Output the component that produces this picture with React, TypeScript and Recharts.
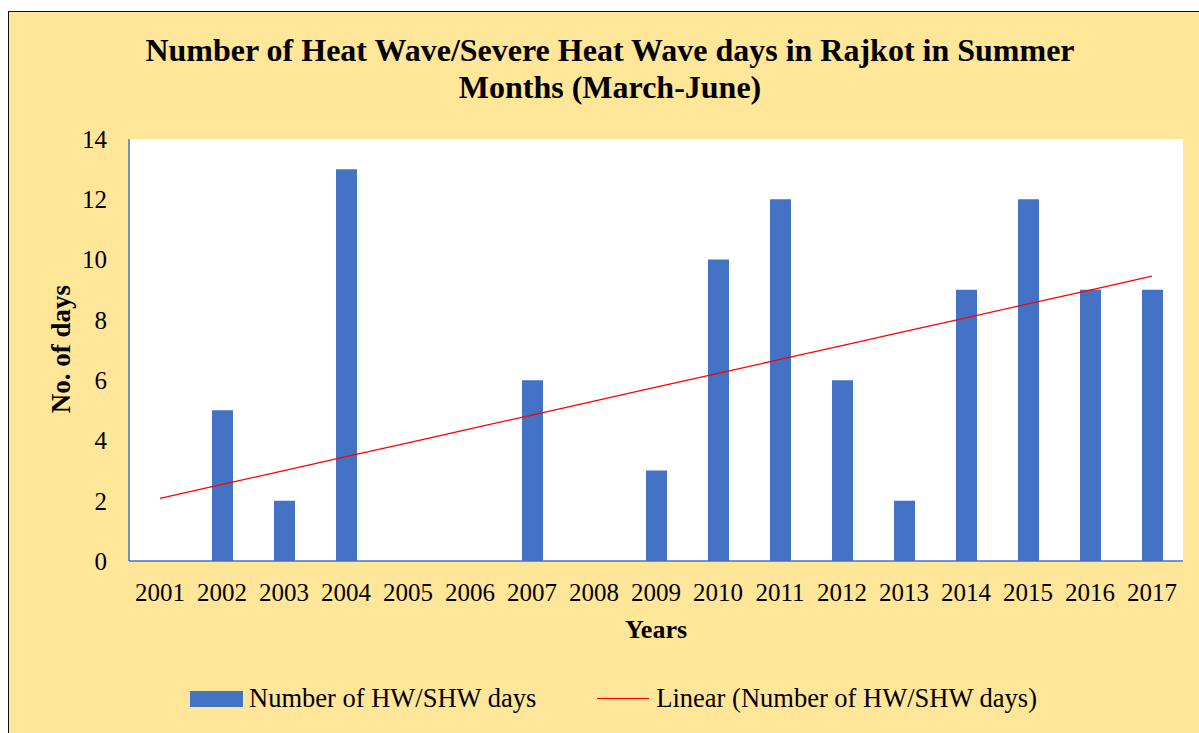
import { ComposedChart, Bar, Line, XAxis, YAxis, CartesianGrid } from "recharts";

const years = [
  "2001", "2002", "2003", "2004", "2005", "2006", "2007", "2008", "2009",
  "2010", "2011", "2012", "2013", "2014", "2015", "2016", "2017",
];
const hwDays = [0, 5, 2, 13, 0, 0, 6, 0, 3, 10, 12, 6, 2, 9, 12, 9, 9];
const yTicks = [0, 2, 4, 6, 8, 10, 12, 14];

const SERIF = '"Times New Roman", "Liberation Serif", serif';
const BLUE = "#4472C4";
const RED = "#FF0000";

// least-squares fit, same as Excel's "Linear" trendline
function linearTrend(values: number[]) {
  const n = values.length;
  const mx = (n + 1) / 2;
  const my = values.reduce((s, v) => s + v, 0) / n;
  let num = 0;
  let den = 0;
  values.forEach((v, i) => {
    num += (i + 1 - mx) * (v - my);
    den += (i + 1 - mx) ** 2;
  });
  const slope = num / den;
  return values.map((_, i) => my + slope * (i + 1 - mx));
}

const trend = linearTrend(hwDays);
const data = years.map((year, i) => ({ year, days: hwDays[i], trend: trend[i] }));

export default function App() {
  return (
    <div>
      <style>{"body{margin:0;overflow:hidden}"}</style>
      <div
        style={{
          position: "absolute",
          left: 8,
          top: 11,
          width: 1200,
          height: 730,
          background: "#FFE699",
          borderLeft: "1.5px solid #111",
          borderTop: "1.5px solid #111",
          fontFamily: SERIF,
          color: "#000",
        }}
      >
        <div
          style={{
            position: "absolute",
            left: 51,
            top: 20,
            width: 1100,
            textAlign: "center",
            fontSize: 32,
            fontWeight: "bold",
            lineHeight: "37px",
          }}
        >
          Number of Heat Wave/Severe Heat Wave days in Rajkot in Summer
          <br />
          Months (March-June)
        </div>

        <ComposedChart
          width={1191}
          height={722}
          data={data}
          margin={{ top: 127, right: 17, bottom: 133, left: 40 }}
          barCategoryGap={20}
        >
          <CartesianGrid fill="#FFFFFF" horizontal={false} vertical={false} />
          <XAxis
            dataKey="year"
            axisLine={{ stroke: BLUE, strokeWidth: 1.5 }}
            tickLine={false}
            tickSize={0}
            tickMargin={22}
            height={40}
            interval={0}
            tick={{ fill: "#000", fontSize: 25, fontFamily: SERIF }}
          />
          <XAxis
            xAxisId="top"
            dataKey="year"
            orientation="top"
            height={0}
            tick={false}
            tickLine={false}
            axisLine={{ stroke: BLUE, strokeWidth: 1.5 }}
          />
          <YAxis
            domain={[0, 14]}
            ticks={yTicks}
            width={80}
            axisLine={{ stroke: BLUE, strokeWidth: 1.5 }}
            tickLine={false}
            tickSize={0}
            tickMargin={22}
            tick={{ fill: "#000", fontSize: 25, fontFamily: SERIF }}
          />
          <YAxis
            yAxisId="right"
            orientation="right"
            domain={[0, 14]}
            width={0}
            tick={false}
            tickLine={false}
            axisLine={{ stroke: BLUE, strokeWidth: 1.5 }}
          />
          <Bar dataKey="days" fill={BLUE} barSize={21} isAnimationActive={false} />
          <Line
            dataKey="trend"
            type="linear"
            stroke={RED}
            strokeWidth={1.3}
            dot={false}
            activeDot={false}
            isAnimationActive={false}
          />
        </ComposedChart>

        <div
          style={{
            position: "absolute",
            left: 647,
            top: 603,
            transform: "translateX(-50%)",
            fontSize: 26,
            fontWeight: "bold",
            whiteSpace: "nowrap",
          }}
        >
          Years
        </div>

        <div
          style={{
            position: "absolute",
            left: 52,
            top: 337,
            transform: "translate(-50%, -50%) rotate(-90deg)",
            fontSize: 27,
            fontWeight: "bold",
            whiteSpace: "nowrap",
          }}
        >
          No. of days
        </div>

        <div
          style={{
            position: "absolute",
            left: 181,
            top: 671,
            display: "flex",
            alignItems: "center",
            fontSize: 26.5,
            whiteSpace: "nowrap",
          }}
        >
          <span style={{ width: 53, height: 16, background: BLUE, marginRight: 6 }} />
          <span>Number of HW/SHW days</span>
          <span
            style={{
              width: 52,
              height: 1.3,
              background: RED,
              marginLeft: 61,
              marginRight: 7,
            }}
          />
          <span>Linear (Number of HW/SHW days)</span>
        </div>
      </div>
    </div>
  );
}
